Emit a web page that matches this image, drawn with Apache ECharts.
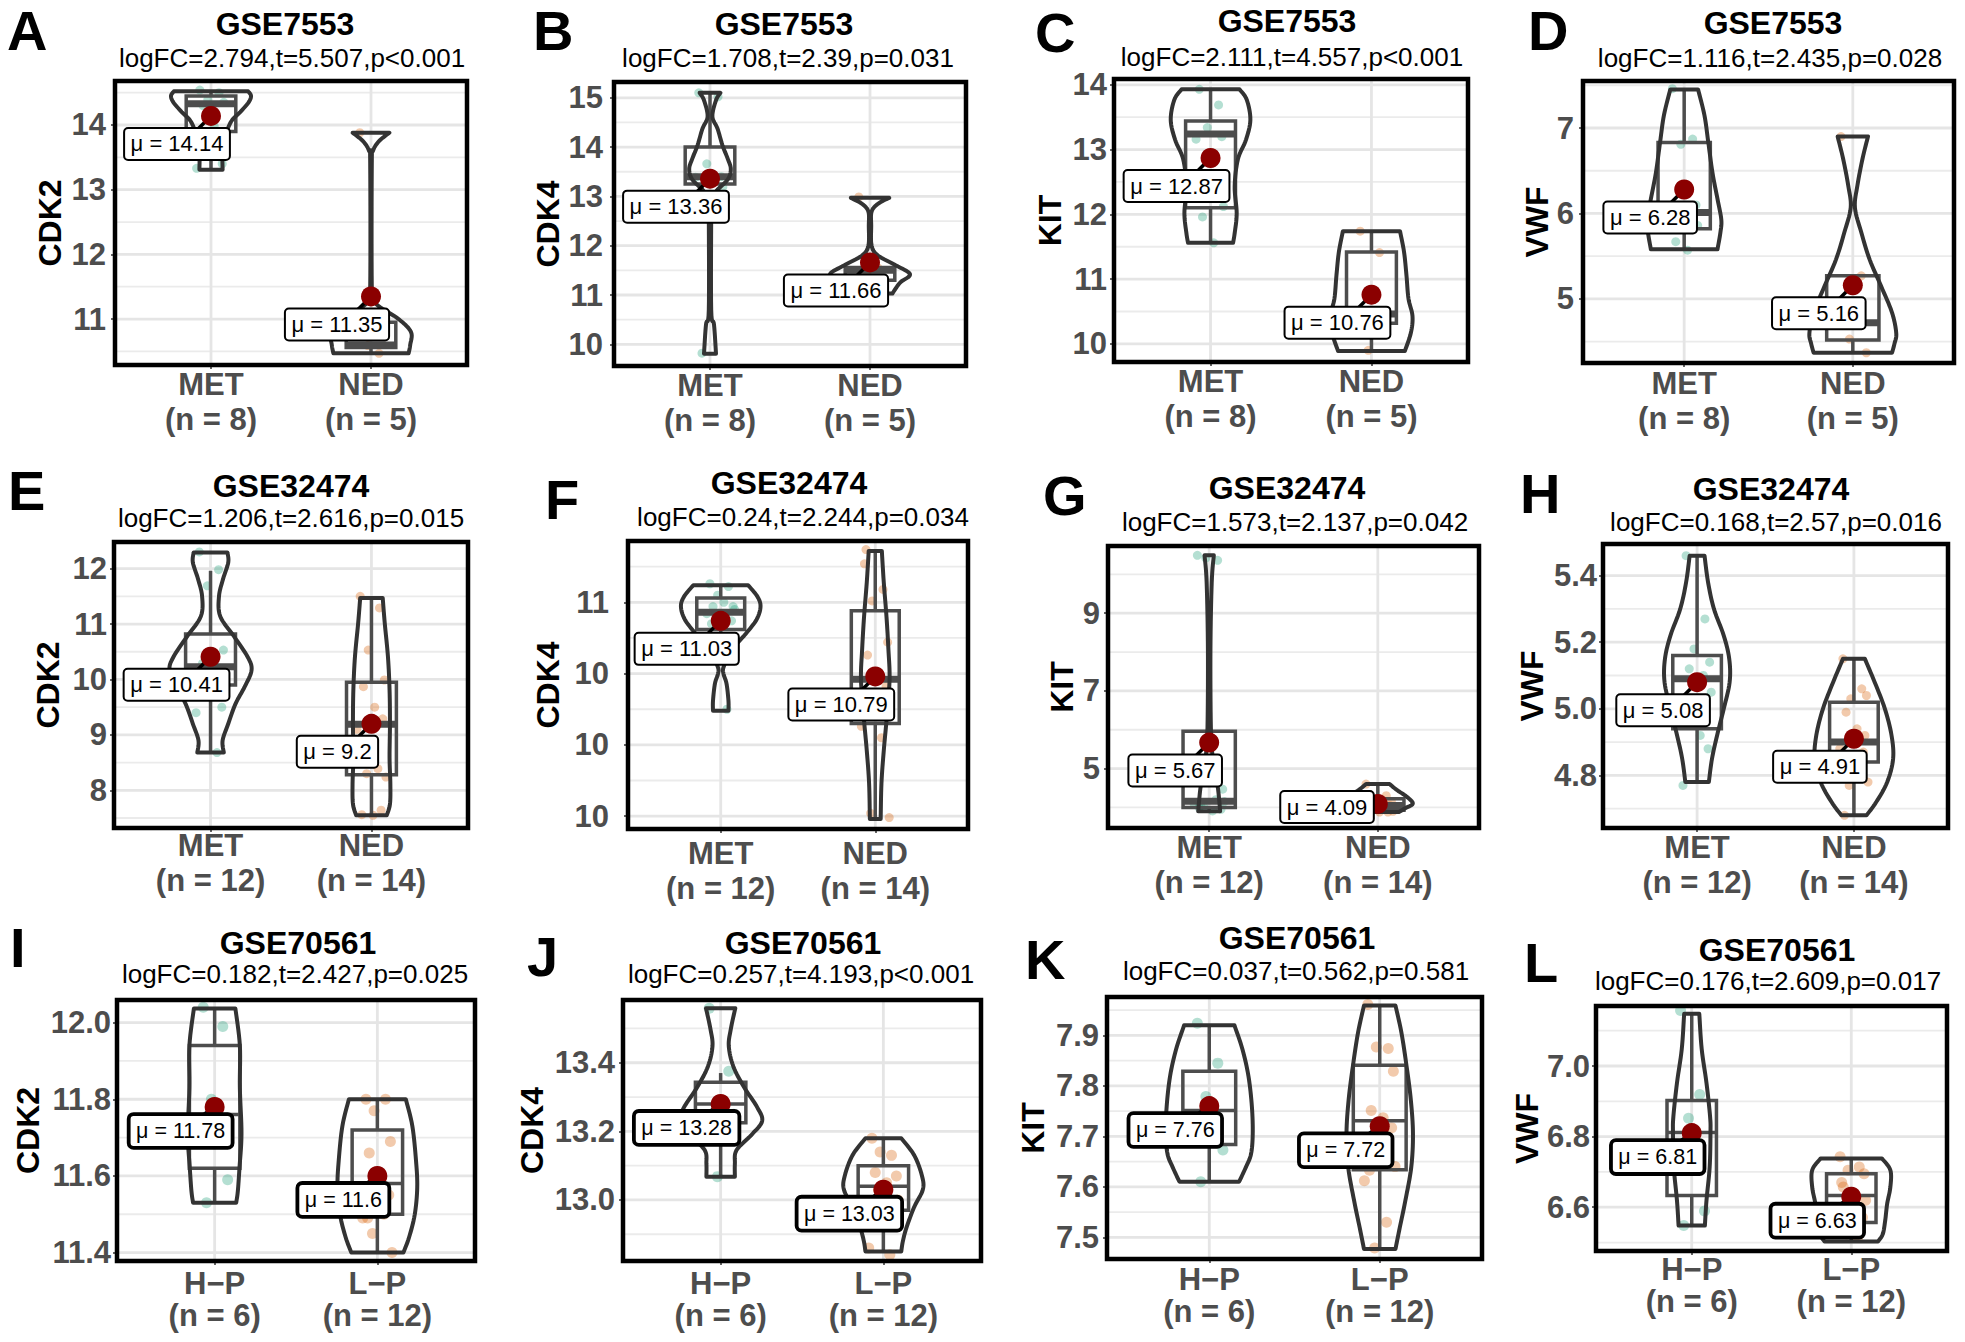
<!DOCTYPE html>
<html>
<head>
<meta charset="utf-8">
<script src="https://cdn.jsdelivr.net/npm/echarts@6.0.0/dist/echarts.min.js"></script>
<style>html,body{margin:0;padding:0;background:#fff}#chart{width:1965px;height:1342px}</style>
</head>
<body>
<div id="chart"></div>
<script>
// ---------------- DATA ----------------
const letters = ['A','B','C','D','E','F','G','H','I','J','K','L'];
const datasets = ['GSE7553','GSE7553','GSE7553','GSE7553','GSE32474','GSE32474','GSE32474','GSE32474','GSE70561','GSE70561','GSE70561','GSE70561'];
const genes = ['CDK2','CDK4','KIT','VWF','CDK2','CDK4','KIT','VWF','CDK2','CDK4','KIT','VWF'];
const statLines = [
  'logFC=2.794,t=5.507,p<0.001','logFC=1.708,t=2.39,p=0.031','logFC=2.111,t=4.557,p<0.001','logFC=1.116,t=2.435,p=0.028',
  'logFC=1.206,t=2.616,p=0.015','logFC=0.24,t=2.244,p=0.034','logFC=1.573,t=2.137,p=0.042','logFC=0.168,t=2.57,p=0.016',
  'logFC=0.182,t=2.427,p=0.025','logFC=0.257,t=4.193,p<0.001','logFC=0.037,t=0.562,p=0.581','logFC=0.176,t=2.609,p=0.017'
];
const groupNames = [['MET','NED'],['MET','NED'],['MET','NED'],['MET','NED'],['MET','NED'],['MET','NED'],['MET','NED'],['MET','NED'],
  ['H\u2212P','L\u2212P'],['H\u2212P','L\u2212P'],['H\u2212P','L\u2212P'],['H\u2212P','L\u2212P']];
const groupSizes = [[8,5],[8,5],[8,5],[8,5],[12,14],[12,14],[12,14],[12,14],[6,12],[6,12],[6,12],[6,12]];

const yLimits = [[10.29,14.68],[9.56,15.32],[9.72,14.09],[4.25,7.55],[7.32,12.48],[9.41,11.43],[3.47,10.73],[4.642,5.495],
  [11.378,12.059],[12.822,13.583],[7.457,7.976],[6.476,7.17]];
const yTicks = [[11,12,13,14],[10,11,12,13,14,15],[10,11,12,13,14],[5,6,7],[8,9,10,11,12],[9.5,10,10.5,11],[5,7,9],[4.8,5.0,5.2,5.4],
  [11.4,11.6,11.8,12.0],[13.0,13.2,13.4],[7.5,7.6,7.7,7.8,7.9],[6.6,6.8,7.0]];
const yTickLabels = [['11','12','13','14'],['10','11','12','13','14','15'],['10','11','12','13','14'],['5','6','7'],['8','9','10','11','12'],
  ['10','10','10','11'],['5','7','9'],['4.8','5.0','5.2','5.4'],['11.4','11.6','11.8','12.0'],['13.0','13.2','13.4'],
  ['7.5','7.6','7.7','7.8','7.9'],['6.6','6.8','7.0']];
const yMinor = [[10.5,11.5,12.5,13.5,14.5],[10.5,11.5,12.5,13.5,14.5],[10.5,11.5,12.5,13.5],[4.5,5.5,6.5,7.5],[7.5,8.5,9.5,10.5,11.5],
  [9.75,10.25,10.75,11.25],[4,6,8,10],[4.7,4.9,5.1,5.3],[11.5,11.7,11.9],[12.9,13.1,13.3,13.5],[7.55,7.65,7.75,7.85,7.95],[6.5,6.7,6.9,7.1]];

const meanValues = [[14.14,11.35],[13.36,11.66],[12.87,10.76],[6.28,5.16],[10.41,9.2],[10.87,10.48],[5.67,4.09],[5.08,4.91],
  [11.78,11.6],[13.28,13.03],[7.76,7.72],[6.81,6.63]];
const meanLabels = [['\u03bc = 14.14','\u03bc = 11.35'],['\u03bc = 13.36','\u03bc = 11.66'],['\u03bc = 12.87','\u03bc = 10.76'],['\u03bc = 6.28','\u03bc = 5.16'],
  ['\u03bc = 10.41','\u03bc = 9.2'],['\u03bc = 11.03','\u03bc = 10.79'],['\u03bc = 5.67','\u03bc = 4.09'],['\u03bc = 5.08','\u03bc = 4.91'],
  ['\u03bc = 11.78','\u03bc = 11.6'],['\u03bc = 13.28','\u03bc = 13.03'],['\u03bc = 7.76','\u03bc = 7.72'],['\u03bc = 6.81','\u03bc = 6.63']];

// violin outlines: [value, scaled density width (1 = full violin width)], top to bottom
const violinA = [[[14.52,0.93],[14.45,1.0],[14.35,0.94],[14.2,0.73],[14.05,0.5],[13.8,0.35],[13.55,0.29],[13.31,0.29]],
  [[13.88,0.46],[13.75,0.2],[13.6,0.05],[13.4,0.02],[11.5,0.02],[11.3,0.08],[11.2,0.19],[11.0,0.69],[10.8,1.0],[10.6,0.98],[10.47,0.94]]];
const violinB = [[[15.10,0.26],[14.95,0.15],[14.62,0.06],[14.37,0.19],[14.04,0.31],[13.77,0.44],[13.56,0.52],[13.35,0.45],[13.1,0.15],[12.9,0.04],[12.6,0.03],[10.7,0.03],[10.4,0.1],[9.81,0.15]],
  [[12.97,0.48],[12.85,0.2],[12.69,0.04],[12.4,0.03],[12.0,0.04],[11.8,0.2],[11.6,0.65],[11.42,1.0],[11.25,0.75],[11.03,0.56]]];
const violinC = [[[13.93,0.72],[13.77,0.9],[13.46,0.99],[13.15,0.88],[12.85,0.68],[12.43,0.6],[12.02,0.65],[11.71,0.6],[11.56,0.56]],
  [[11.74,0.71],[11.42,0.81],[11.06,0.87],[10.7,0.92],[10.43,1.02],[10.17,0.98],[9.89,0.83]]];
const violinD = [[[7.45,0.33],[7.15,0.48],[6.84,0.57],[6.48,0.67],[6.17,0.79],[5.93,0.88],[5.78,0.86],[5.58,0.79]],
  [[6.90,0.36],[6.64,0.23],[6.33,0.11],[6.07,0.05],[5.78,0.2],[5.46,0.4],[5.15,0.67],[4.84,0.93],[4.6,1.03],[4.48,0.99],[4.37,0.93]]];
const violinE = [[[12.29,0.42],[12.11,0.44],[11.81,0.31],[11.50,0.21],[11.14,0.24],[10.78,0.58],[10.41,0.92],[10.17,1.02],[9.87,0.85],[9.56,0.62],[9.2,0.44],[8.9,0.3],[8.68,0.33]],
  [[11.47,0.28],[11.02,0.33],[10.41,0.41],[9.81,0.45],[9.2,0.46],[8.59,0.45],[8.11,0.47],[7.75,0.46],[7.55,0.38]]];
const violinF = [[[11.12,0.71],[11.04,0.95],[10.97,1.03],[10.88,0.93],[10.78,0.65],[10.67,0.3],[10.55,0.08],[10.50,0.07],[10.43,0.15],[10.31,0.2],[10.24,0.2]],
  [[11.36,0.17],[11.14,0.22],[10.9,0.29],[10.67,0.34],[10.46,0.37],[10.2,0.3],[9.96,0.22],[9.73,0.16],[9.48,0.14]]];
const violinG = [[[10.49,0.11],[9.78,0.06],[8.05,0.03],[6.06,0.04],[5.3,0.08],[4.94,0.12],[4.55,0.2],[4.16,0.24],[3.9,0.26]],
  [[4.6,0.28],[4.45,0.45],[4.28,0.68],[4.1,0.83],[3.98,0.65],[3.88,0.5]]];
const violinH = [[[5.46,0.19],[5.38,0.28],[5.30,0.43],[5.22,0.68],[5.15,0.82],[5.08,0.83],[5.0,0.68],[4.92,0.51],[4.85,0.38],[4.78,0.3]],
  [[5.15,0.28],[5.08,0.53],[5.0,0.79],[4.92,0.96],[4.85,1.0],[4.78,0.85],[4.72,0.57],[4.68,0.32]]];
const violinI = [[[12.037,0.51],[11.94,0.62],[11.83,0.62],[11.71,0.66],[11.62,0.61],[11.56,0.57],[11.53,0.53]],
  [[11.80,0.7],[11.73,0.86],[11.64,0.95],[11.57,0.98],[11.50,0.92],[11.44,0.78],[11.40,0.64]]];
const violinJ = [[[13.559,0.36],[13.498,0.25],[13.449,0.2],[13.39,0.31],[13.33,0.57],[13.27,0.9],[13.23,1.02],[13.19,0.76],[13.145,0.39],[13.105,0.35],[13.068,0.35]],
  [[13.18,0.44],[13.13,0.76],[13.07,0.95],[13.03,0.97],[12.98,0.76],[12.92,0.57],[12.88,0.48],[12.85,0.44]]];
const violinK = [[[7.92,0.59],[7.872,0.78],[7.819,0.92],[7.759,1.0],[7.705,1.02],[7.665,0.98],[7.639,0.86],[7.61,0.7]],
  [[7.959,0.37],[7.905,0.51],[7.839,0.63],[7.772,0.73],[7.705,0.78],[7.639,0.74],[7.572,0.6],[7.519,0.47],[7.477,0.37]]];
const violinL = [[[7.148,0.19],[7.048,0.25],[6.952,0.37],[6.857,0.46],[6.81,0.47],[6.714,0.45],[6.619,0.37],[6.548,0.33]],
  [[6.738,0.77],[6.705,0.98],[6.657,0.98],[6.61,0.9],[6.562,0.85],[6.524,0.79],[6.503,0.67]]];

// box statistics: [lower whisker, Q1, median, Q3, upper whisker]
const boxA = [[13.31,13.9,14.33,14.45,14.52],[10.47,10.56,10.6,10.95,10.95]];
const boxB = [[13.19,13.25,13.4,14.0,15.1],[11.01,11.3,11.5,11.56,11.56]];
const boxC = [[11.56,12.10,13.24,13.44,13.93],[9.89,10.32,10.46,11.42,11.74]];
const boxD = [[5.58,5.82,6.01,6.83,7.45],[4.37,4.52,4.72,5.27,5.27]];
const boxE = [[8.68,9.9,10.23,10.82,11.96],[7.55,8.28,9.19,9.95,11.47]];
const boxF = [[10.78,10.81,10.93,11.03,11.12],[9.48,10.15,10.46,10.94,11.36]];
const boxG = [[3.9,4.0,4.16,5.96,5.96],[3.88,3.93,4.05,4.22,4.6]];
const boxH = [[4.78,4.94,5.09,5.16,5.46],[4.68,4.84,4.9,5.02,5.15]];
const boxI = [[11.53,11.62,11.76,11.94,12.037],[11.40,11.50,11.58,11.72,11.80]];
const boxJ = [[13.068,13.225,13.28,13.343,13.37],[12.85,12.97,13.04,13.10,13.18]];
const boxK = [[7.61,7.684,7.751,7.829,7.92],[7.477,7.634,7.731,7.841,7.959]];
const boxL = [[6.548,6.633,6.812,6.902,7.148],[6.503,6.557,6.633,6.695,6.738]];

// individual samples
const pointsA = [[14.54,14.5,14.39,14.35,14.3,13.98,13.4,13.33],[13.88,10.47,10.59,10.9,10.91]];
const pointsB = [[15.10,15.02,13.66,13.19,9.82,13.3,13.4,13.39],[12.99,11.55,11.45,11.3,11.01]];
const pointsC = [[13.93,13.69,13.34,12.12,11.96,11.56,13.2,13.16],[11.74,11.41,9.9,10.45,10.3]];
const pointsD = [[7.46,6.87,6.81,5.86,5.67,5.57,6.1,5.9],[6.90,5.27,4.53,4.37,4.73]];
const pointsE = [[12.3,11.98,11.69,10.53,10.29,10.29,9.5,9.4,8.68,10.2,10.06,10.0],
  [11.5,11.29,10.53,9.99,9.87,9.5,9.29,9.1,8.39,8.3,8.24,7.56,7.55,7.64]];
const pointsF = [[11.13,11.11,11.05,10.97,10.97,11.0,10.87,10.92,10.25,10.9,10.95,10.85],
  [11.27,11.09,11.01,10.72,10.63,10.45,10.41,10.13,10.05,9.52,9.49,11.37,10.45,10.3]];
const pointsG = [[10.49,10.36,10.42,4.47,4.04,3.91,3.95,4.1,4.2,4.0,4.15,4.0],
  [4.6,4.3,4.2,4.15,4.1,4.1,4.05,4.0,4.0,3.95,3.9,3.9,3.88,3.88]];
const pointsH = [[5.46,5.27,5.18,5.14,5.12,4.92,4.88,4.77,5.1,5.08,5.05,5.0],
  [5.15,5.06,5.03,5.04,4.99,4.94,4.92,4.88,4.84,4.77,4.78,4.68,4.9,4.87]];
const pointsI = [[12.04,11.99,11.80,11.59,11.53,11.73],[11.80,11.80,11.77,11.69,11.66,11.60,11.55,11.49,11.50,11.45,11.40,11.49]];
const pointsJ = [[13.559,13.375,13.068,13.25,13.22,13.208],[13.18,13.13,13.14,13.07,13.08,13.05,12.99,12.86,12.84,13.03,13.0,12.98]];
const pointsK = [[7.924,7.845,7.779,7.673,7.61,7.729],[7.961,7.874,7.877,7.829,7.751,7.737,7.717,7.612,7.53,7.479,7.64,7.633]];
const pointsL = [[7.157,6.919,6.852,6.589,6.548,6.795],[6.743,6.714,6.705,6.695,6.657,6.614,6.571,6.533,6.514,6.524,6.62,6.67]];

const violins = [violinA,violinB,violinC,violinD,violinE,violinF,violinG,violinH,violinI,violinJ,violinK,violinL];
const boxes = [boxA,boxB,boxC,boxD,boxE,boxF,boxG,boxH,boxI,boxJ,boxK,boxL];
const samples = [pointsA,pointsB,pointsC,pointsD,pointsE,pointsF,pointsG,pointsH,pointsI,pointsJ,pointsK,pointsL];

// ---------------- LAYOUT / STYLE ----------------
const FONT = '"Liberation Sans", Arial, Helvetica, sans-serif';
const GRID_RECTS = [[115,81,352,284],[614,82,352,284],[1114,79,354,283],[1583,81,371,282],
  [114,542,354,286],[628,541,340,288],[1108,546,371,282],[1603,544,345,284],
  [117,1000,358,261],[623,1000,358,261],[1107,997,375,262],[1596,1006,351,245]];
const Y_LABEL_MARGIN = [9,11,7,9,7,19,8,6,6,8,8,6];
const Y_NAME_GAP = [49,50,48,30,50,64,30,55,73,75,58,50];
const X_LABEL_MARGIN = [1.5,1.5,2,2.5,0,6.5,1.5,1.5,6,6,4,2];
const LETTER_POS = [[7,30],[533,30],[1035,32],[1528,30],[8,490],[545,499],[1043,495],[1520,493],[10,947],[527,956],[1025,959],[1524,962]];
const TITLE_POS = [[285,24],[784,23.5],[1287,21],[1773,22.5],[291,486],[789,483],[1287,487.5],[1771,488.5],[298,942.5],[803,943],[1297,938],[1777,950]];
const SUB_POS = [[292,57.5],[788,57.5],[1292,56.5],[1770,57.5],[291,518],[803,517],[1295,521.5],[1776,521.5],[295,974],[801,974],[1296,970.5],[1768,980.5]];
const JITTER = [-0.07,0.05,-0.02,0.08,-0.05,0.02,0.07,-0.09,0.04,-0.03,0.09,-0.06,0.01,0.06];
const POINT_COLORS = ['rgba(27,158,119,0.33)','rgba(217,95,2,0.33)'];

function catmull(pts, n) {
  const out = [];
  for (let i = 0; i < pts.length - 1; i++) {
    const p0 = pts[Math.max(0, i - 1)], p1 = pts[i], p2 = pts[i + 1], p3 = pts[Math.min(pts.length - 1, i + 2)];
    for (let k = 0; k < n; k++) {
      const t = k / n, t2 = t * t, t3 = t2 * t;
      out.push([0, 1].map(d => 0.5 * ((2 * p1[d]) + (-p0[d] + p2[d]) * t +
        (2 * p0[d] - 5 * p1[d] + 4 * p2[d] - p3[d]) * t2 + (-p0[d] + 3 * p1[d] - 3 * p2[d] + p3[d]) * t3)));
    }
  }
  out.push(pts[pts.length - 1].slice());
  return out;
}

function makeRender(i) {
  const row = Math.floor(i / 4);
  const medW = row < 2 ? 7 : 3.5;
  const labOff = row < 2 ? 28 : 24;
  const labFont = row < 2 ? 22 : 21.5;
  const labBorder = row < 2 ? 2 : 3.8;
  const ptR = row < 2 ? 4.5 : 5.5;
  const ymid = (yLimits[i][0] + yLimits[i][1]) / 2;
  return function (params, api) {
    const cs = params.coordSys;
    const X = v => api.coord([v, ymid])[0];
    const Y = v => api.coord([1.5, v])[1];
    const ch = [];
    const x0 = cs.x + 2, x1 = cs.x + cs.width - 2, y0 = cs.y + 2, y1 = cs.y + cs.height - 2;
    yMinor[i].forEach(v => ch.push({type: 'line', shape: {x1: x0, y1: Y(v), x2: x1, y2: Y(v)}, style: {stroke: '#ebebeb', lineWidth: 1.8}}));
    yTicks[i].forEach(v => ch.push({type: 'line', shape: {x1: x0, y1: Y(v), x2: x1, y2: Y(v)}, style: {stroke: '#e5e5e5', lineWidth: 2.8}}));
    [1, 2].forEach(c => ch.push({type: 'line', shape: {x1: X(c), y1: y0, x2: X(c), y2: y1}, style: {stroke: '#e5e5e5', lineWidth: 2.8}}));
    for (let g = 0; g < 2; g++) {
      const c = g + 1;
      samples[i][g].forEach((v, k) => {
        ch.push({type: 'circle', shape: {cx: X(c + JITTER[k % JITTER.length]), cy: Y(v), r: ptR}, style: {fill: POINT_COLORS[g]}});
      });
      const [lo, q1, md, q3, hi] = boxes[i][g];
      const bx0 = X(c - 0.155), bx1 = X(c + 0.155);
      ch.push({type: 'line', shape: {x1: X(c), y1: Y(q3), x2: X(c), y2: Y(hi)}, style: {stroke: '#4d4d4d', lineWidth: 3.5}});
      ch.push({type: 'line', shape: {x1: X(c), y1: Y(q1), x2: X(c), y2: Y(lo)}, style: {stroke: '#4d4d4d', lineWidth: 3.5}});
      ch.push({type: 'rect', shape: {x: bx0, y: Y(q3), width: bx1 - bx0, height: Y(q1) - Y(q3)}, style: {fill: 'none', stroke: '#4d4d4d', lineWidth: 3.5}});
      ch.push({type: 'line', shape: {x1: bx0, y1: Y(md), x2: bx1, y2: Y(md)}, style: {stroke: '#4d4d4d', lineWidth: medW}});
      const prof = violins[i][g];
      const left = catmull(prof.map(p => [X(c - 0.25 * p[1]), Y(p[0])]), 8);
      const right = catmull(prof.map(p => [X(c + 0.25 * p[1]), Y(p[0])]), 8);
      ch.push({type: 'polygon', shape: {points: left.concat(right.reverse())}, style: {fill: 'none', stroke: '#333333', lineWidth: 4, lineJoin: 'round'}});
    }
    for (let g = 0; g < 2; g++) {
      const dx = X(g + 1), dy = Y(meanValues[i][g]);
      const halfH = 15;
      let lx = dx - 34, ly = dy + labOff, align = 'center', clamped = false;
      if (ly + halfH > cs.y + cs.height - 6) {
        clamped = true; ly = cs.y + cs.height - 6 - halfH; lx = dx - 5; align = 'right';
      }
      if (!clamped) {
        ch.push({type: 'line', shape: {x1: dx, y1: dy, x2: dx - 13, y2: ly - halfH}, style: {stroke: '#000', lineWidth: 3.5}});
      }
      ch.push({type: 'circle', shape: {cx: dx, cy: dy, r: 10}, style: {fill: '#8b0000'}});
      ch.push({type: 'text', x: lx, y: ly, style: {text: meanLabels[i][g], align: align, verticalAlign: 'middle',
        font: labFont + 'px ' + FONT, fill: '#000', lineHeight: 22, backgroundColor: '#fff', borderColor: '#000',
        borderWidth: labBorder, borderRadius: 3, padding: [4, 5.5]}});
    }
    ch.push({type: 'rect', shape: {x: cs.x, y: cs.y, width: cs.width, height: cs.height}, style: {fill: 'none', stroke: '#000', lineWidth: 4.5}});
    return {type: 'group', children: ch};
  };
}

const option = {animation: false, backgroundColor: '#fff', textStyle: {fontFamily: FONT},
  grid: [], xAxis: [], yAxis: [], series: [], graphic: []};

for (let i = 0; i < 12; i++) {
  const [gl, gt, gw, gh] = GRID_RECTS[i];
  const row = Math.floor(i / 4);
  option.grid.push({left: gl, top: gt, width: gw, height: gh, show: true, borderWidth: 0, backgroundColor: '#fff',
    containLabel: false, outerBoundsMode: 'none'});
  option.xAxis.push({gridIndex: i, type: 'value', min: 0.4, max: 2.6,
    axisLine: {show: false}, splitLine: {show: false},
    axisTick: {show: true, customValues: [1, 2], length: 4, lineStyle: {color: '#333', width: 1.5}},
    axisLabel: {customValues: [1, 2], margin: X_LABEL_MARGIN[i], color: '#4d4d4d', fontWeight: 'bold', fontSize: 31,
      lineHeight: row < 2 ? 35 : 32, fontFamily: FONT,
      formatter: v => { const g = Math.round(v) - 1; return groupNames[i][g] + '\n(n = ' + groupSizes[i][g] + ')'; }}});
  option.yAxis.push({gridIndex: i, type: 'value', min: yLimits[i][0], max: yLimits[i][1],
    name: genes[i], nameLocation: 'middle', nameRotate: 90, nameGap: Y_NAME_GAP[i],
    nameTextStyle: {fontSize: 32, fontWeight: 'bold', color: '#000', fontFamily: FONT},
    axisLine: {show: false}, splitLine: {show: false},
    axisTick: {show: true, customValues: yTicks[i], length: 4, lineStyle: {color: '#333', width: 1.5}},
    axisLabel: {customValues: yTicks[i], margin: Y_LABEL_MARGIN[i], color: '#4d4d4d', fontWeight: 'bold',
      fontSize: row < 2 ? 31 : 31, fontFamily: FONT,
      formatter: v => { const k = yTicks[i].findIndex(t => Math.abs(t - v) < 1e-6); return k >= 0 ? yTickLabels[i][k] : ''; }}});
  option.series.push({type: 'custom', coordinateSystem: 'cartesian2d', xAxisIndex: i, yAxisIndex: i, silent: true,
    data: [[1.5, (yLimits[i][0] + yLimits[i][1]) / 2]], encode: {x: 0, y: 1}, renderItem: makeRender(i)});
  option.graphic.push({type: 'text', x: LETTER_POS[i][0], y: LETTER_POS[i][1], silent: true,
    style: {text: letters[i], font: 'bold 56px ' + FONT, fill: '#000', align: 'left', verticalAlign: 'middle'}});
  option.graphic.push({type: 'text', x: TITLE_POS[i][0], y: TITLE_POS[i][1], silent: true,
    style: {text: datasets[i], font: 'bold 32px ' + FONT, fill: '#000', align: 'center', verticalAlign: 'middle'}});
  option.graphic.push({type: 'text', x: SUB_POS[i][0], y: SUB_POS[i][1], silent: true,
    style: {text: statLines[i], font: '26px ' + FONT, fill: '#000', align: 'center', verticalAlign: 'middle'}});
}

const chart = echarts.init(document.getElementById('chart'), null, {renderer: 'svg', width: 1965, height: 1342});
chart.setOption(option);
</script>
</body>
</html>
